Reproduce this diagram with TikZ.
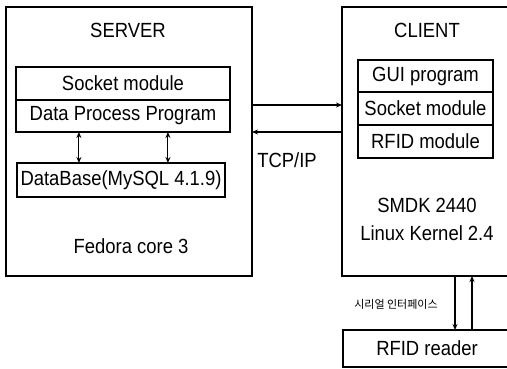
\documentclass[tikz,border=0pt]{standalone}
\usepackage{fontspec}
\setmainfont{Liberation Sans}[FakeStretch=0.9]
\newfontfamily\kr{Noto Sans CJK KR}
\usetikzlibrary{arrows.meta,calc}
\begin{document}
\begin{tikzpicture}[x=1pt,y=-1pt,
  box/.style={draw=black,line width=1.2pt,rectangle,inner sep=0pt,outer sep=0pt},
  lbl/.style={font=\fontsize{20.5}{22}\selectfont,inner sep=0pt},
  arr/.style={line width=1.1pt,-{Stealth[length=6pt,width=5pt]}},
  darr/.style={line width=1.1pt,{Stealth[length=6pt,width=5pt]}-{Stealth[length=6pt,width=5pt]}}]
\useasboundingbox (0,0) rectangle (507,369);
\clip (0,0) rectangle (507,369);
% server side
\node[box,minimum width=246pt,minimum height=269pt] (server) at (129,141.5) {};
\node[lbl] (servert) at (128,30) {SERVER};
\node[box,lbl,minimum width=214pt,minimum height=33pt] (ssock) at (123,83.5) {Socket module};
\node[box,lbl,minimum width=214pt,minimum height=32pt] (dpp) at (123,116) {Data Process Program};
\node[box,lbl,minimum width=208pt,minimum height=34pt] (db) at (121,180) {DataBase(MySQL 4.1.9)};
\node[lbl] (fedora) at (131,246) {Fedora core 3};
\coordinate (a1) at ($(dpp.south west)!0.294!(dpp.south east)$);
\coordinate (a2) at ($(dpp.south west)!0.71!(dpp.south east)$);
\draw[darr] (a1) -- (a1 |- db.north);
\draw[darr] (a2) -- (a2 |- db.north);
% client side
\node[box,minimum width=178pt,minimum height=269pt] (client) at (431,141.5) {};
\node[lbl] (clientt) at (427,30) {CLIENT};
\node[box,lbl,minimum width=135pt,minimum height=32pt] (gui) at (425.5,76) {GUI program};
\node[box,lbl,minimum width=135pt,minimum height=33pt] (csock) at (425.5,108.5) {Socket module};
\node[box,lbl,minimum width=135pt,minimum height=33pt] (rfidm) at (425.5,141.5) {RFID module};
\node[lbl] (smdk) at (427,205) {SMDK 2440};
\node[lbl] (linux) at (427,233) {Linux Kernel 2.4};
% network
\draw[arr] ([yshift=36.5pt]server.east) -- ([yshift=36.5pt]client.west);
\draw[arr] ([yshift=9.5pt]client.west) -- ([yshift=9.5pt]server.east);
\node[lbl] (tcp) at (287,160) {TCP/IP};
% reader
\node[box,lbl,minimum width=168pt,minimum height=37pt] (reader) at (427,348.5) {RFID reader};
\coordinate (d1) at (455,0);
\coordinate (d2) at (472,0);
\draw[arr] (client.south -| d1) -- (reader.north -| d1);
\draw[arr] (reader.north -| d2) -- (client.south -| d2);
\node[font=\kr\fontsize{11}{12}\selectfont,inner sep=0pt] (serial) at (396,304) {시리얼 인터페이스};
\end{tikzpicture}
\end{document}
